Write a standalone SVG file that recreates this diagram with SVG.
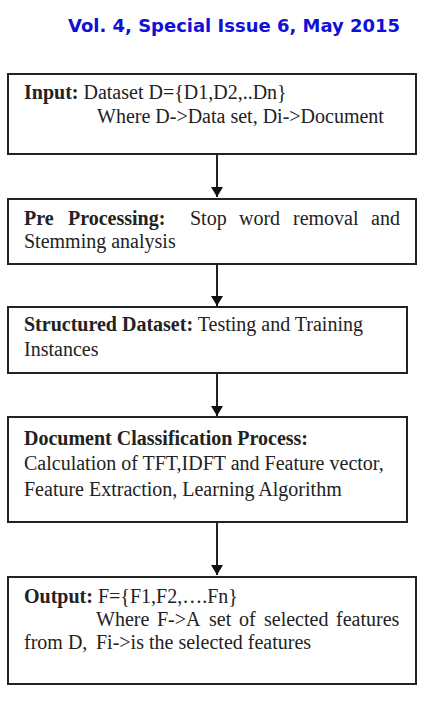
<svg xmlns="http://www.w3.org/2000/svg" width="421" height="717" viewBox="0 0 421 717">
<style>
.box{fill:#fff;stroke:#222;stroke-width:2}
.t{font-family:"Liberation Serif","Times New Roman",serif;font-size:20px;fill:#222}
.b{font-weight:bold}
.hdr{font-family:"DejaVu Sans",Verdana,sans-serif;font-weight:bold;font-size:17px;fill:#1010d8}
.conn{stroke:#222;stroke-width:2;fill:none}
</style>
<defs>
<marker id="ah" markerWidth="10" markerHeight="12" refX="10" refY="6" orient="auto" markerUnits="userSpaceOnUse">
<path d="M0,0 L10,6 L0,12 Z" fill="#111"/>
</marker>
</defs>
<rect width="421" height="717" fill="#fff"/>
<text class="hdr" x="68" y="32" textLength="332" lengthAdjust="spacingAndGlyphs">Vol. 4, Special Issue 6, May 2015</text>
<g id="connectors">
<line class="conn" x1="217" y1="154" x2="217" y2="197" marker-end="url(#ah)"/>
<line class="conn" x1="217" y1="264" x2="217" y2="306" marker-end="url(#ah)"/>
<line class="conn" x1="217" y1="373" x2="217" y2="416" marker-end="url(#ah)"/>
<line class="conn" x1="217" y1="522" x2="217" y2="575" marker-end="url(#ah)"/>
</g>
<g id="input">
<rect class="box" x="8" y="74" width="408" height="80"/>
<text class="t" x="24" y="99"><tspan class="b">Input:</tspan> Dataset D={D1,D2,..Dn}</text>
<text class="t" x="97" y="123">Where D-&gt;Data set, Di-&gt;Document</text>
</g>
<g id="preprocessing">
<rect class="box" x="8" y="199" width="408" height="65"/>
<text class="t" y="225"><tspan class="b" x="24">Pre</tspan><tspan class="b" x="68">Processing:</tspan><tspan x="190">Stop</tspan><tspan x="239">word</tspan><tspan x="293">removal</tspan><tspan x="371">and</tspan></text>
<text class="t" x="24" y="248">Stemming analysis</text>
</g>
<g id="structured">
<rect class="box" x="8" y="307" width="399" height="66"/>
<text class="t" x="24" y="331"><tspan class="b">Structured Dataset:</tspan> Testing and Training</text>
<text class="t" x="24" y="356">Instances</text>
</g>
<g id="classification">
<rect class="box" x="8" y="417" width="399" height="105"/>
<text class="t b" x="24" y="445">Document Classification Process:</text>
<text class="t" x="24" y="470">Calculation of TFT,IDFT and Feature vector,</text>
<text class="t" x="24" y="496">Feature Extraction, Learning Algorithm</text>
</g>
<g id="output">
<rect class="box" x="8" y="577" width="408" height="107"/>
<text class="t" x="24" y="603"><tspan class="b">Output:</tspan> F={F1,F2,….Fn}</text>
<text class="t" y="626"><tspan x="96">Where</tspan><tspan x="157">F-&gt;A</tspan><tspan x="209">set</tspan><tspan x="239">of</tspan><tspan x="264">selected</tspan><tspan x="336">features</tspan></text>
<text class="t" y="649"><tspan x="24">from D,</tspan><tspan x="96">Fi-&gt;is the selected features</tspan></text>
</g>
</svg>
